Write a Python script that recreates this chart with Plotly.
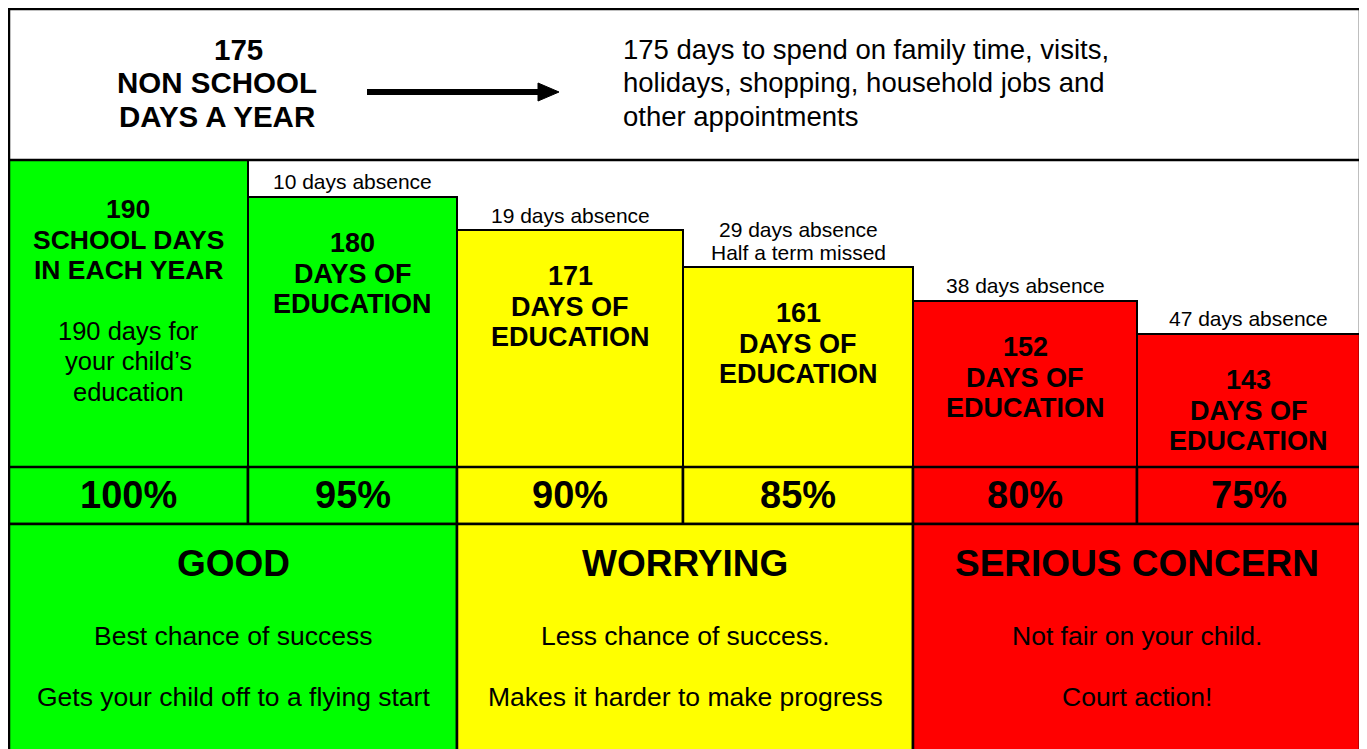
import plotly.graph_objects as go

# ---------------- data ----------------
school_days_year = 190
non_school_days = 175
absence_days = [0, 10, 19, 29, 38, 47]
education_days = [190, 180, 171, 161, 152, 143]
attendance_pct = [100, 95, 90, 85, 80, 75]
column_colors = ["#00FF00", "#00FF00", "#FFFF00", "#FFFF00", "#FF0000", "#FF0000"]
absence_notes = ["", "", "", "Half a term missed", "", ""]
band_titles = ["GOOD", "WORRYING", "SERIOUS CONCERN"]
band_colors = ["#00FF00", "#FFFF00", "#FF0000"]
band_line1 = ["Best chance of success", "Less chance of success.", "Not fair on your child."]
band_line2 = ["Gets your child off to a flying start", "Makes it harder to make progress", "Court action!"]
top_right_lines = ["175 days to spend on family time, visits,",
                   "holidays, shopping, household jobs and",
                   "other appointments"]

# ---------------- layout constants (page pixels) ----------------
W, H = 1367, 749
OFF = 8                       # default page margin of the html body
FW, FH = W - OFF, H - OFF     # figure size
X_EDGES = [9, 248, 457, 683, 913, 1137, 1360]
BAND_EDGES = [9, 457, 913, 1360]
TOP_Y0, TOP_Y1 = 9, 160
BAR_BOTTOM = 467
PCT_BOTTOM = 524
AXIS_BASE = 107
FONT = "Liberation Sans, Arial, sans-serif"
LW = 2.5


def py(px):
    return 1 - (px - OFF) / FH


centers = [(a + b) / 2 for a, b in zip(X_EDGES[:-1], X_EDGES[1:])]
centers[0] = 128
widths = [b - a for a, b in zip(X_EDGES[:-1], X_EDGES[1:])]
bar_x = [(a + b) / 2 for a, b in zip(X_EDGES[:-1], X_EDGES[1:])]

fig = go.Figure()
fig.add_trace(go.Bar(
    x=bar_x,
    y=[d - AXIS_BASE for d in education_days],
    base=AXIS_BASE,
    width=widths,
    marker=dict(color=column_colors, line=dict(color="black", width=2)),
    hoverinfo="skip",
    showlegend=False,
))

shapes = []
# top box
shapes.append(dict(type="rect", xref="x", yref="paper", x0=X_EDGES[0], x1=X_EDGES[-1],
                   y0=py(TOP_Y1), y1=py(TOP_Y0), line=dict(color="black", width=LW),
                   fillcolor="white"))
# outer side borders
for xe in (X_EDGES[0], X_EDGES[-1]):
    shapes.append(dict(type="line", xref="x", yref="paper", x0=xe, x1=xe,
                       y0=py(H + 5), y1=py(TOP_Y1), line=dict(color="black", width=LW)))
# percent row
for i in range(6):
    shapes.append(dict(type="rect", xref="x", yref="paper", x0=X_EDGES[i], x1=X_EDGES[i + 1],
                       y0=py(PCT_BOTTOM), y1=py(BAR_BOTTOM), fillcolor=column_colors[i],
                       line=dict(color="black", width=LW)))
# bottom bands
for i in range(3):
    shapes.append(dict(type="rect", xref="x", yref="paper", x0=BAND_EDGES[i], x1=BAND_EDGES[i + 1],
                       y0=py(H + 10), y1=py(PCT_BOTTOM), fillcolor=band_colors[i],
                       line=dict(color="black", width=LW)))
# arrow
shapes.append(dict(type="line", xref="x", yref="paper", x0=367, x1=545, y0=py(92), y1=py(92),
                   line=dict(color="black", width=6)))
shapes.append(dict(type="path", xref="x", yref="paper",
                   path=f"M 538 {py(83)} L 559 {py(92)} L 538 {py(101)} Z",
                   fillcolor="black", line=dict(color="black", width=1)))

ann = []


def txt(x, y, s, size, bold=False, xref="x", yref="paper", xanchor="center", yshift=0):
    ann.append(dict(x=x, y=y, xref=xref, yref=yref, text=f"<b>{s}</b>" if bold else s,
                    showarrow=False, xanchor=xanchor, yanchor="middle", yshift=yshift,
                    font=dict(family=FONT, size=size, color="black")))


# top box texts
txt(238, py(50), str(non_school_days), 29.5, bold=True)
for s, yy in zip(["NON SCHOOL", "DAYS A YEAR"], [83, 116]):
    txt(217, py(yy), s, 29.5, bold=True)
for s, yy in zip(top_right_lines, [50, 83, 116]):
    txt(621, py(yy), s, 27.5, xanchor="left")

# column texts
for i in range(6):
    cx = centers[i]
    d = education_days[i]
    if i == 0:
        for s, off in zip([str(d), "SCHOOL DAYS", "IN EACH YEAR"], [49, 80, 110]):
            txt(cx, d, s, 26.5, bold=True, yref="y", yshift=-off)
        for s, off in zip([f"{school_days_year} days for", "your child’s", "education"], [171, 201, 232]):
            txt(cx, d, s, 25.5, yref="y", yshift=-off)
    else:
        for s, off in zip([str(d), "DAYS OF", "EDUCATION"], [46, 77, 107]):
            txt(cx, d, s, 27, bold=True, yref="y", yshift=-off)
        lines = [f"{absence_days[i]} days absence"]
        if absence_notes[i]:
            lines.append(absence_notes[i])
        for k, s in enumerate(reversed(lines)):
            txt(cx, d, s, 21, yref="y", yshift=15 + 23 * k)
    txt(cx, py(495), f"{attendance_pct[i]}%", 38, bold=True)

# bottom bands
for i in range(3):
    bx = (BAND_EDGES[i] + BAND_EDGES[i + 1]) / 2
    txt(bx, py(563), band_titles[i], 37, bold=True)
    txt(bx, py(636), band_line1[i], 26.5)
    txt(bx, py(697), band_line2[i], 26.5)

fig.update_layout(
    width=FW, height=FH,
    margin=dict(l=0, r=0, t=0, b=0),
    paper_bgcolor="white", plot_bgcolor="white",
    xaxis=dict(range=[OFF, OFF + FW], domain=[0, 1], visible=False, fixedrange=True),
    yaxis=dict(range=[AXIS_BASE, school_days_year], domain=[py(BAR_BOTTOM), py(TOP_Y1)],
               visible=False, fixedrange=True),
    bargap=0,
    shapes=shapes,
    annotations=ann,
    showlegend=False,
)

fig.write_html("out.html")
